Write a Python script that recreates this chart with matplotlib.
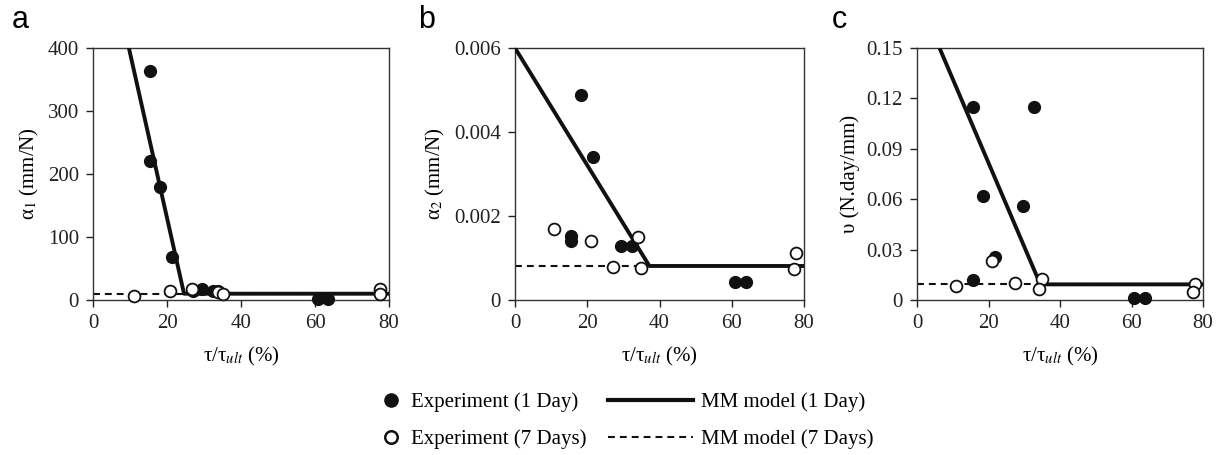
import matplotlib
matplotlib.use("Agg")
import matplotlib.pyplot as plt
from matplotlib.lines import Line2D

plt.rcParams["font.family"] = ["Liberation Serif", "DejaVu Serif"]
plt.rcParams["mathtext.fontset"] = "stix"

# ---- data ----
# panel a: alpha_1 (mm/N)
a_x1 = [15.5, 15.3, 18.2, 21.4, 27.0, 29.5, 32.4, 33.8, 60.8, 63.5]
a_y1 = [363, 221, 179, 69, 14, 18, 15, 14, 1, 1]
a_x7 = [11.1, 20.9, 26.8, 33.8, 35.0, 77.7, 77.5]
a_y7 = [6, 15, 17, 12, 10, 18, 9]
a_mx1 = [9.7, 24.6, 80]
a_my1 = [400, 10, 10]
a_mx7 = [0, 80]
a_my7 = [10, 10]

# panel b: alpha_2 (mm/N)
b_x1 = [18.3, 21.5, 15.4, 15.4, 29.3, 32.5, 60.9, 63.9]
b_y1 = [0.00489, 0.00341, 0.00152, 0.00141, 0.00129, 0.00129, 0.000436, 0.000436]
b_x7 = [10.9, 20.9, 34.1, 27.2, 34.8, 77.8, 77.1]
b_y7 = [0.0017, 0.00141, 0.00151, 0.00079, 0.00077, 0.00111, 0.00073]
b_mx1 = [0, 37.2, 80]
b_my1 = [0.006, 0.00081, 0.00081]
b_mx7 = [0, 80]
b_my7 = [0.00081, 0.00081]

# panel c: upsilon (N.day/mm)
c_x1 = [15.6, 32.8, 18.4, 29.6, 21.7, 15.6, 60.8, 63.9]
c_y1 = [0.115, 0.115, 0.0617, 0.0557, 0.0255, 0.0119, 0.001, 0.001]
c_x7 = [21.0, 10.9, 27.3, 35.0, 34.0, 77.9, 77.2]
c_y7 = [0.0231, 0.0083, 0.0103, 0.0126, 0.0067, 0.0097, 0.0047]
c_mx1 = [6.3, 34.5, 80]
c_my1 = [0.15, 0.0093, 0.0093]
c_mx7 = [0, 80]
c_my7 = [0.0093, 0.0093]

x_ticks = [0, 20, 40, 60, 80]
a_yticks = [0, 100, 200, 300, 400]
a_ylabels = ["0", "100", "200", "300", "400"]
b_yticks = [0, 0.002, 0.004, 0.006]
b_ylabels = ["0", "0.002", "0.004", "0.006"]
c_yticks = [0, 0.03, 0.06, 0.09, 0.12, 0.15]
c_ylabels = ["0", "0.03", "0.06", "0.09", "0.12", "0.15"]

panel_letters = ["a", "b", "c"]
y_titles = [r"α$_1$ (mm/N)", r"α$_2$ (mm/N)", "υ (N.day/mm)"]
x_title = r"τ/τ$_{ult}$ (%)"

FS = 15
DASH = (0, (3.3, 2.4))
W, H = 1219, 455
fig = plt.figure(figsize=(W / 100, H / 100), dpi=100)

# axes boxes in pixels (left, right), panel letter x
boxes = [(93, 389), (515, 804), (917, 1203)]
letter_x = [12, 418, 832]
top, bottom = 48, 300

panels = [
    (a_x1, a_y1, a_x7, a_y7, a_mx1, a_my1, a_mx7, a_my7, a_yticks, a_ylabels, 400),
    (b_x1, b_y1, b_x7, b_y7, b_mx1, b_my1, b_mx7, b_my7, b_yticks, b_ylabels, 0.006),
    (c_x1, c_y1, c_x7, c_y7, c_mx1, c_my1, c_mx7, c_my7, c_yticks, c_ylabels, 0.15),
]

for i, (l, r) in enumerate(boxes):
    x1, y1, x7, y7, mx1, my1, mx7, my7, yt, ytl, ymax = panels[i]
    ax = fig.add_axes([l / W, (H - bottom) / H, (r - l) / W, (bottom - top) / H])
    ax.plot(mx7, my7, color="#111111", lw=1.5, ls=DASH, zorder=2)
    ax.plot(mx1, my1, color="#111111", lw=2.8, solid_capstyle="butt", zorder=3)
    ax.plot(x1, y1, "o", ms=8.5, mfc="#111111", mec="#111111", zorder=4, clip_on=False)
    ax.plot(x7, y7, "o", ms=8.5, mfc="white", mec="#111111", mew=1.3, zorder=5, clip_on=False)
    ax.set_xlim(0, 80)
    ax.set_ylim(0, ymax)
    ax.set_xticks(x_ticks)
    ax.set_yticks(yt)
    ax.set_yticklabels(ytl)
    ax.tick_params(labelsize=FS, direction="out", length=5, width=1, colors="#222222", pad=5)
    for s in ax.spines.values():
        s.set_linewidth(1.0)
        s.set_color("#333333")
    ax.set_xlabel(x_title, fontsize=FS, labelpad=9)
    ax.set_ylabel(y_titles[i], fontsize=FS, labelpad=5)
    fig.text(letter_x[i] / W, (H - 20) / H, panel_letters[i],
             family="Liberation Sans", fontsize=22, va="center", ha="left")

# legend: markers and model lines as two groups
h_exp = [
    Line2D([0], [0], marker="o", ls="none", ms=9.5, mfc="#111111", mec="#111111"),
    Line2D([0], [0], marker="o", ls="none", ms=9, mfc="white", mec="#111111", mew=1.8),
]
h_mm = [
    Line2D([0], [0], color="#111111", lw=3),
    Line2D([0], [0], color="#111111", lw=1.5, ls=DASH),
]
fig.legend(h_exp, ["Experiment (1 Day)", "Experiment (7 Days)"],
           loc="center left", bbox_to_anchor=(381 / W, (H - 421) / H),
           frameon=False, fontsize=FS, handlelength=1.0, handletextpad=0.45,
           labelspacing=0.83, borderpad=0, borderaxespad=0)
fig.legend(h_mm, ["MM model (1 Day)", "MM model (7 Days)"],
           loc="center left", bbox_to_anchor=(608 / W, (H - 421) / H),
           frameon=False, fontsize=FS, handlelength=4.1, handletextpad=0.35,
           labelspacing=0.83, borderpad=0, borderaxespad=0)

fig.savefig("out.png", dpi=100)
